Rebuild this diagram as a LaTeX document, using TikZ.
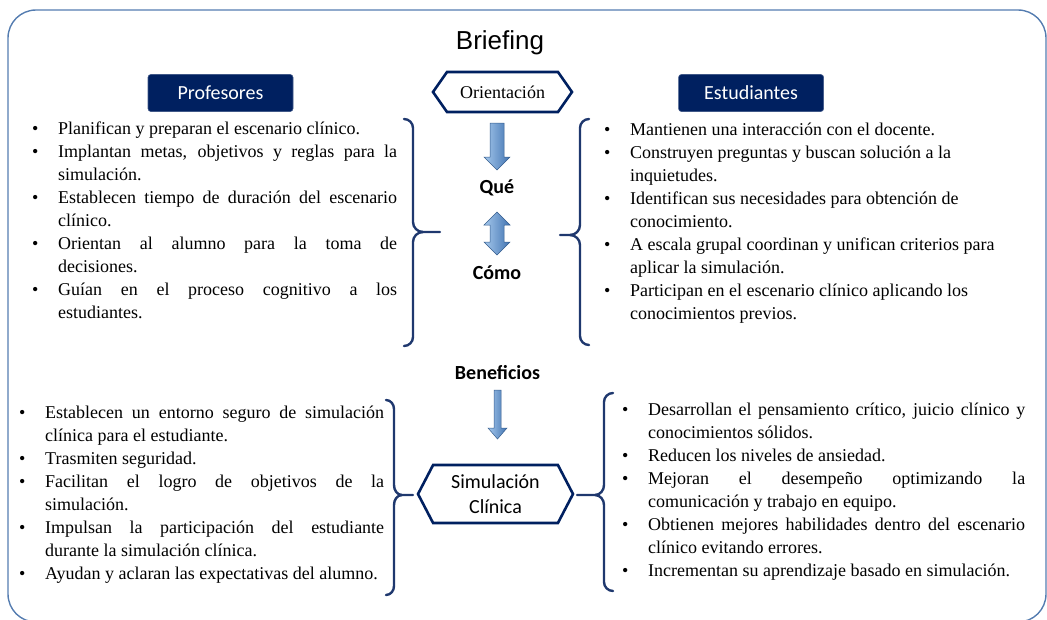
\documentclass[tikz,border=0pt]{standalone}
\usepackage{fontspec}
\setmainfont{Liberation Serif}
\newfontfamily\calibri{Carlito}
\newfontfamily\arialfont{Liberation Sans}
\usetikzlibrary{calc, positioning, shapes.symbols}
\definecolor{myNavy}{RGB}{0, 32, 96}
\definecolor{myBrace}{RGB}{31, 56, 110}
\definecolor{myFrame}{RGB}{84, 124, 176}
\definecolor{myArrowLight}{RGB}{165, 200, 236}
\definecolor{myArrowDark}{RGB}{66, 116, 178}
\tikzstyle{frame}= [draw=myFrame, line width=1.4pt, rounded corners=28pt]
\tikzstyle{tag}= [fill=myNavy, draw=myNavy!75!white, line width=0.6pt, rounded corners=1mm, text=white, font=\calibri\fontsize{20}{24}\selectfont, minimum width=145pt, minimum height=37pt]
\tikzstyle{hexa}= [signal, signal to=west and east, draw=myNavy, fill=white, line width=2.6pt, inner sep=0pt]
\tikzstyle{bold}= [font=\calibri\bfseries\fontsize{20}{24}\selectfont]
\tikzstyle{blockarrow}= [left color=myArrowLight, right color=myArrowDark, draw=myArrowDark!80!black, line width=0.5pt]
\tikzstyle{brace}= [draw=myBrace, line width=2.4pt, line cap=round]
\tikzstyle{txt}= [align=left, inner sep=0pt, anchor=north west, font=\fontsize{18}{23}\selectfont]
% bullet, continuation and justified lines
\newlength{\jw}
\newcommand{\itm}{\makebox[26pt][l]{\strut\textbullet}}
\newcommand{\cnt}{\hspace*{26pt}}
\newcommand{\jst}[1]{\makebox[\jw][s]{#1}}

\begin{document}
\begin{tikzpicture}[x=1pt, y=-1pt, node distance=2cm]
    \useasboundingbox (0,0) rectangle (1047,619);
    % outer frame
    \draw[frame] (8,10) rectangle (1046,622);

    \node[font=\arialfont\fontsize{26}{30}\selectfont] (brief) at (500,43) {Briefing};
    \node[tag] (prof) at (220.5,93) {Profesores};
    \node[tag, right=385pt of prof] (estu) {Estudiantes};
    \node[hexa, minimum width=139pt, minimum height=40pt, signal pointer angle=110,
          font=\fontsize{18}{22}\selectfont] (orient) at (502.5,92) {Orientación};

    % que and como
    \shadedraw[blockarrow] (490,123) -- (504,123) -- (504,157) -- (510,157) -- (497,170)
        -- (484,157) -- (490,157) -- cycle;
    \node[bold] (que) at (497,188) {Qué};
    \shadedraw[blockarrow] (497,212) -- (510,225) -- (504,225) -- (504,242) -- (510,242)
        -- (497,255) -- (484,242) -- (490,242) -- (490,225) -- (484,225) -- cycle;
    \node[bold] (como) at (497,273) {Cómo};

    % upper braces
    \draw[brace] (404,119) to[out=0,in=90] (413,128) -- (413,222) to[out=-90,in=180] (423,232) -- (440,232);
    \draw[brace] (404,346) to[out=0,in=-90] (413,337) -- (413,242) to[out=90,in=180] (423,232);
    \draw[brace] (589,119) to[out=180,in=90] (580,128) -- (580,225) to[out=-90,in=0] (570,235) -- (560,235);
    \draw[brace] (589,345) to[out=180,in=-90] (580,336) -- (580,245) to[out=90,in=0] (570,235);

    % profesores list
    \setlength{\jw}{339pt}
    \node[txt] (profList) at (32,118) {%
        \itm Planifican y preparan el escenario clínico.\\
        \itm\jst{Implantan metas, objetivos y reglas para la}\\
        \cnt simulación.\\
        \itm\jst{Establecen tiempo de duración del escenario}\\
        \cnt clínico.\\
        \itm\jst{Orientan al alumno para la toma de}\\
        \cnt decisiones.\\
        \itm\jst{Guían en el proceso cognitivo a los}\\
        \cnt estudiantes.};

    % estudiantes list
    \node[txt] (estuList) at (604,119) {%
        \itm Mantienen una interacción con el docente.\\
        \itm Construyen preguntas y buscan solución a la\\
        \cnt inquietudes.\\
        \itm Identifican sus necesidades para obtención de\\
        \cnt conocimiento.\\
        \itm A escala grupal coordinan y unifican criterios para\\
        \cnt aplicar la simulación.\\
        \itm Participan en el escenario clínico aplicando los\\
        \cnt conocimientos previos.};

    % beneficios
    \node[bold] (benef) at (497.5,373) {Beneficios};
    \shadedraw[blockarrow] (494,390) -- (501,390) -- (501,428) -- (507,428) -- (497.5,439)
        -- (488,428) -- (494,428) -- cycle;
    \node[hexa, minimum width=155pt, minimum height=58pt, signal pointer angle=125, align=center,
          font=\calibri\fontsize{20}{25}\selectfont] (simu) at (495.5,494) {Simulación\\Clínica};

    % lower braces
    \draw[brace] (386,400) to[out=0,in=90] (394,409) -- (394,485) to[out=-90,in=180] (402,495) -- (413,495);
    \draw[brace] (386,595) to[out=0,in=-90] (394,586) -- (394,505) to[out=90,in=180] (402,495);
    \draw[brace] (613,393) to[out=180,in=90] (604,402) -- (604,485) to[out=-90,in=0] (595,495) -- (577,495);
    \draw[brace] (613,591) to[out=180,in=-90] (604,582) -- (604,505) to[out=90,in=0] (595,495);

    % lower lists
    \node[txt] (leftList) at (19,402) {%
        \itm\jst{Establecen un entorno seguro de simulación}\\
        \cnt clínica para el estudiante.\\
        \itm Trasmiten seguridad.\\
        \itm\jst{Facilitan el logro de objetivos de la}\\
        \cnt simulación.\\
        \itm\jst{Impulsan la participación del estudiante}\\
        \cnt durante la simulación clínica.\\
        \itm Ayudan y aclaran las expectativas del alumno.};
    \setlength{\jw}{377pt}
    \node[txt] (rightList) at (622,399) {%
        \itm\jst{Desarrollan el pensamiento crítico, juicio clínico y}\\
        \cnt conocimientos sólidos.\\
        \itm Reducen los niveles de ansiedad.\\
        \itm\jst{Mejoran el desempeño optimizando la}\\
        \cnt comunicación y trabajo en equipo.\\
        \itm\jst{Obtienen mejores habilidades dentro del escenario}\\
        \cnt clínico evitando errores.\\
        \itm Incrementan su aprendizaje basado en simulación.};
\end{tikzpicture}
\end{document}
